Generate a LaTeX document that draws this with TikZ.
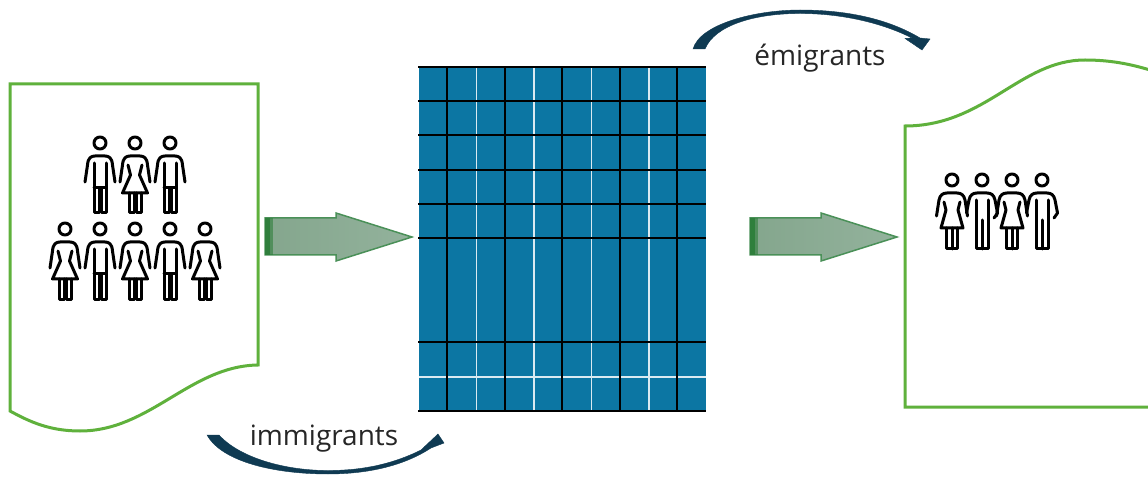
\documentclass[tikz,border=0pt]{standalone}
\usepackage{fontspec}
\setmainfont{Open Sans}
\definecolor{docgreen}{HTML}{5FB13C}
\definecolor{gridblue}{HTML}{0C76A3}
\definecolor{arrowdark}{HTML}{0F3A52}
\definecolor{blockedge}{HTML}{4A9058}
\definecolor{blockband}{HTML}{2F7F3C}
\definecolor{blockleft}{HTML}{84A68D}
\definecolor{blockright}{HTML}{93B29C}
\tikzset{
  docshape/.style={draw=docgreen,line width=3pt,fill=white,line join=miter},
  blockarrow/.style={draw=blockedge,line width=1.5pt,left color=blockleft,right color=blockright},
  bandmark/.style={fill=blockband,draw=none},
  curvearrow/.style={fill=arrowdark,draw=arrowdark,line width=.4pt},
  gridblack/.style={draw=black,line width=2pt},
  gridwhite/.style={draw=white!85!gridblue,line width=1.9pt},
  figure line/.style={draw=black,line width=3pt,line cap=round,line join=round,fill=none},
  labeltext/.style={font=\fontsize{28}{32}\selectfont,text=black!85,inner sep=0pt},
  man/.pic={
    \draw[figure line] (0,0) circle (6);
    \draw[figure line] (-15,39) -- (-12.5,22) .. controls (-12,15) and (-9,13) .. (-5,13) -- (5,13) .. controls (9,13) and (12,15) .. (12.5,22) -- (15,39);
    \draw[figure line] (-6,20) -- (-6,70) -- (-1,70) -- (-1,45) -- (1,45) -- (1,70) -- (6,70) -- (6,20);
    \draw[figure line] (-6,45) -- (6,45);
  },
  woman/.pic={
    \draw[figure line] (0,0) circle (6);
    \draw[figure line] (-15,39) -- (-12.5,22) .. controls (-12,15) and (-9,13) .. (-5,13) -- (5,13) .. controls (9,13) and (12,15) .. (12.5,22) -- (15,39);
    \draw[figure line] (-7,22) -- (-4.5,32) -- (-12.5,50) -- (12.5,50) -- (4.5,32) -- (7,22);
    \draw[figure line] (-6,50) -- (-6,70) -- (-1,70) -- (-1,50);
    \draw[figure line] (6,50) -- (6,70) -- (1,70) -- (1,50);
  },
  mantwo/.pic={
    \draw[figure line] (0,0) circle (6);
    \draw[figure line] (-15.5,33) -- (-13,20) .. controls (-12,15) and (-9,13) .. (-5,13) -- (5,13) .. controls (9,13) and (12,15) .. (13,20) -- (15.5,33) -- (12,38);
    \draw[figure line] (-6,20) -- (-6,69) -- (6,69) -- (6,20);
    \draw[figure line] (0,40) -- (0,69);
  },
  womantwo/.pic={
    \draw[figure line] (0,0) circle (6);
    \draw[figure line] (-15.5,36) -- (-13,20) .. controls (-12,15) and (-9,13) .. (-5,13) -- (5,13) .. controls (9,13) and (12,15) .. (13,20) -- (15.5,36);
    \draw[figure line] (-8,22) -- (-6,30) -- (-11,48) -- (11,48) -- (6,30) -- (8,22);
    \draw[figure line] (-5.5,48) -- (-5.5,69) -- (5.5,69) -- (5.5,48);
    \draw[figure line] (0,48) -- (0,69);
  },
}
\begin{document}
\begin{tikzpicture}[x=1pt,y=-1pt]
\useasboundingbox (0,0) rectangle (1148,478);
% documents
\draw[docshape] (10,84) -- (258,84) -- (258,365)
  .. controls (190,366) and (150,431) .. (80,431)
  .. controls (50,431) and (30,422) .. (10,411) -- cycle;
\draw[docshape] (905,407) -- (905,126)
  .. controls (985,126) and (1020,60) .. (1085,60)
  .. controls (1110,60) and (1130,64) .. (1150,70)
  -- (1150,407) -- cycle;
% grid
\fill[gridblue] (419,67) rectangle (706,411);
\foreach \x in {476.5,534,591.5,649} \draw[gridwhite] (\x,67) -- (\x,411);
\draw[gridwhite] (419,377) -- (706,377);
\foreach \x in {447,504.5,562,619.5,677} \draw[gridblack] (\x,67) -- (\x,411);
\foreach \y in {67,101.5,135.5,170,204,238,341.5,411} \draw[gridblack] (418,\y) -- (706,\y);
% block arrows
\coordinate (tipA) at (412,237);
\coordinate (tipB) at (897,237);
\draw[blockarrow] (265,218) -- (336,218) -- (336,213) -- (tipA) -- (336,261) -- (336,255) -- (265,255) -- cycle;
\fill[bandmark] (265,218) rectangle (270,255);
\fill[bandmark,opacity=.6] (270,218) rectangle (273,255);
\draw[blockarrow] (750,218) -- (821,218) -- (821,213) -- (tipB) -- (821,261) -- (821,255) -- (750,255) -- cycle;
\fill[bandmark] (750,218) rectangle (755,255);
\fill[bandmark,opacity=.6] (755,218) rectangle (758,255);
% curved arrows
\coordinate (outStart) at (693,49);
\coordinate (outTip) at (922,50);
\coordinate (inStart) at (207,435);
\coordinate (inTip) at (444,443);
\draw[curvearrow] (outStart) .. controls (700,24) and (755,10) .. (800,10)
  .. controls (850,10) and (890,20) .. (920,38) -- (930,39) -- (outTip) -- (905,38.5) -- (912,38)
  .. controls (880,22) and (840,13.5) .. (800,13.5)
  .. controls (755,13.5) and (715,25) .. (705,49) -- cycle;
\draw[curvearrow] (inStart) -- (219,435) .. controls (240,458) and (285,470.5) .. (328,470.5)
  .. controls (365,470.5) and (395,463) .. (421,450) -- (438,434) -- (inTip) -- (431,448)
  .. controls (405,465) and (370,474) .. (328,474)
  .. controls (275,474) and (222,462) .. (207,435) -- cycle;
% people, first document
\foreach \n/\px/\k in {a/100/man,b/135/woman,c/170/man}
  \pic (\n) at (\px,143) {\k};
\foreach \n/\px/\k in {d/65/woman,e/100/man,f/135/woman,g/170/man,h/205/woman}
  \pic (\n) at (\px,229) {\k};
% people, second document
\foreach \n/\px/\k in {i/952/womantwo,j/982/mantwo,k/1012/womantwo,l/1042/mantwo}
  \pic (\n) at (\px,180) {\k};
% labels
\node[labeltext,anchor=base] (imm) at (324,445) {immigrants};
\node[labeltext,anchor=base] (emi) at (820,66) {émigrants};
\end{tikzpicture}
\end{document}
